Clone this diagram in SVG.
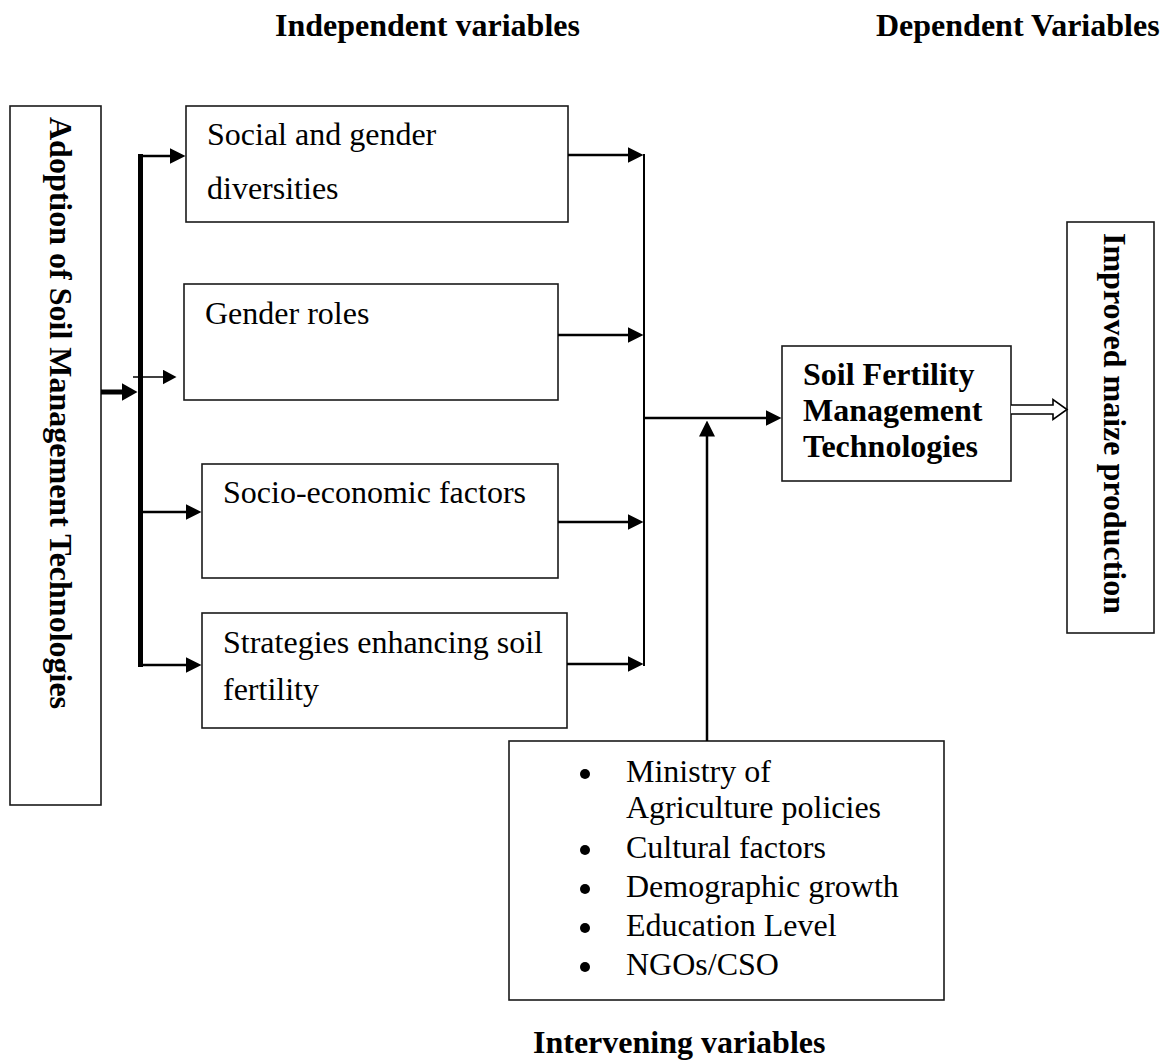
<svg xmlns="http://www.w3.org/2000/svg" width="1175" height="1060" viewBox="0 0 1175 1060">
<style>
  .box { fill: #ffffff; stroke: #1a1a1a; stroke-width: 1.6; }
  .t { font-family: "Liberation Serif", "Times New Roman", serif; font-size: 32px; fill: #000; }
  .b { font-weight: bold; }
  .ln { stroke: #000; fill: none; }
</style>
<defs>
  <marker id="ah" viewBox="0 0 16 16" markerWidth="16" markerHeight="16" refX="0.5" refY="8" markerUnits="userSpaceOnUse" orient="auto">
    <path d="M0,0 L16,8 L0,16 z" fill="#000"/>
  </marker>
  <marker id="ahs" viewBox="0 0 14 15" markerWidth="14" markerHeight="15" refX="0.5" refY="7.5" markerUnits="userSpaceOnUse" orient="auto">
    <path d="M0,0 L14,7.5 L0,15 z" fill="#000"/>
  </marker>
  <marker id="ahb" viewBox="0 0 16 18" markerWidth="16" markerHeight="18" refX="0.5" refY="9" markerUnits="userSpaceOnUse" orient="auto">
    <path d="M0,0 L16,9 L0,18 z" fill="#000"/>
  </marker>
</defs>

<text class="t b" x="275" y="36">Independent variables</text>
<text class="t b" x="876" y="36">Dependent Variables</text>
<text class="t b" x="533" y="1053">Intervening variables</text>

<g id="adoption">
  <rect class="box" x="10" y="106" width="91" height="699"/>
  <text class="t b" transform="translate(49.5,117) rotate(90)">Adoption of Soil Management Technologies</text>
</g>

<g id="social">
  <rect class="box" x="186" y="106" width="382" height="116"/>
  <text class="t" x="207" y="145">Social and gender</text>
  <text class="t" x="207" y="199">diversities</text>
</g>

<g id="gender">
  <rect class="box" x="184" y="284" width="374" height="116"/>
  <text class="t" x="205" y="324">Gender roles</text>
</g>

<g id="socio">
  <rect class="box" x="202" y="464" width="356" height="114"/>
  <text class="t" x="223" y="503">Socio-economic factors</text>
</g>

<g id="strategies">
  <rect class="box" x="202" y="613" width="365" height="115"/>
  <text class="t" x="223" y="653">Strategies enhancing soil</text>
  <text class="t" x="223" y="700">fertility</text>
</g>

<g id="sfmt">
  <rect class="box" x="782" y="346" width="229" height="135"/>
  <text class="t b" x="803" y="385">Soil Fertility</text>
  <text class="t b" x="803" y="421">Management</text>
  <text class="t b" x="803" y="457">Technologies</text>
</g>

<g id="improved">
  <rect class="box" x="1067" y="222" width="87" height="411"/>
  <text class="t b" transform="translate(1104,233) rotate(90)">Improved maize production</text>
</g>

<g id="intervening">
  <rect class="box" x="509" y="741" width="435" height="259"/>
  <circle cx="585" cy="774" r="5"/>
  <circle cx="585" cy="850" r="5"/>
  <circle cx="585" cy="889" r="5"/>
  <circle cx="585" cy="928" r="5"/>
  <circle cx="585" cy="967" r="5"/>
  <text class="t" x="626" y="782">Ministry of</text>
  <text class="t" x="626" y="818">Agriculture policies</text>
  <text class="t" x="626" y="858">Cultural factors</text>
  <text class="t" x="626" y="897">Demographic growth</text>
  <text class="t" x="626" y="936">Education Level</text>
  <text class="t" x="626" y="975">NGOs/CSO</text>
</g>

<g id="connectors">
  <line class="ln" x1="101" y1="392" x2="122" y2="392" stroke-width="5" marker-end="url(#ahb)"/>
  <line class="ln" x1="140.5" y1="154" x2="140.5" y2="667" stroke-width="5"/>
  <line class="ln" x1="140" y1="156" x2="170" y2="156" stroke-width="2.5" marker-end="url(#ah)"/>
  <line class="ln" x1="133" y1="377" x2="163" y2="377" stroke-width="1.5" marker-end="url(#ahs)"/>
  <line class="ln" x1="140" y1="512" x2="186" y2="512" stroke-width="2.5" marker-end="url(#ah)"/>
  <line class="ln" x1="140" y1="665" x2="186" y2="665" stroke-width="2.5" marker-end="url(#ah)"/>

  <line class="ln" x1="568" y1="155" x2="628" y2="155" stroke-width="2.5" marker-end="url(#ah)"/>
  <line class="ln" x1="558" y1="335" x2="628" y2="335" stroke-width="2.5" marker-end="url(#ah)"/>
  <line class="ln" x1="558" y1="522" x2="628" y2="522" stroke-width="2.5" marker-end="url(#ah)"/>
  <line class="ln" x1="567" y1="664" x2="628" y2="664" stroke-width="2.5" marker-end="url(#ah)"/>
  <line class="ln" x1="644" y1="154" x2="644" y2="666" stroke-width="2"/>

  <line class="ln" x1="644" y1="418" x2="766" y2="418" stroke-width="2.5" marker-end="url(#ah)"/>
  <line class="ln" x1="707" y1="741" x2="707" y2="436" stroke-width="2.5" marker-end="url(#ah)"/>

  <path d="M1011,405 L1053,405 L1053,399.5 L1067,409.5 L1053,419.5 L1053,414 L1011,414" fill="#fff" stroke="#000" stroke-width="1.6"/>
</g>
</svg>
